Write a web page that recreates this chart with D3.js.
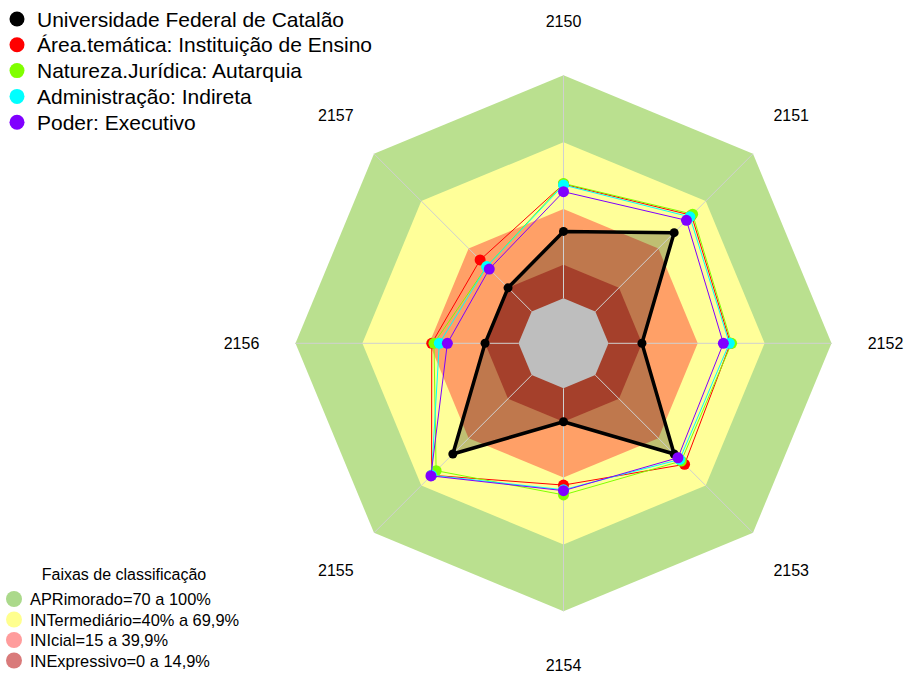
<!DOCTYPE html>
<html>
<head>
<meta charset="utf-8">
<script src="https://cdn.jsdelivr.net/npm/d3@7"></script>
<style>
  body { margin: 0; background: #fff; }
  text { font-family: Arial, "Liberation Sans", sans-serif; fill: #000; }
</style>
</head>
<body>
<div id="chart"></div>
<script>
let width = 907
let height = 675

// axes (clockwise from top)
let axes = ["2150", "2151", "2152", "2153", "2154", "2155", "2156", "2157"]

// series names and colours
let seriesNames = ["Universidade Federal de Catalão", "Área.temática: Instituição de Ensino",
  "Natureza.Jurídica: Autarquia", "Administração: Indireta", "Poder: Executivo"]
let seriesColors = ["#000000", "#ff0000", "#80ff00", "#00ffff", "#8000ff"]

// values in %
let ufc      = [30, 50, 15, 50, 15, 50, 15, 15]
let area     = [51.2, 61, 54.7, 56.6, 43.4, 63.5, 38.9, 32.7]
let natureza = [51.5, 61.7, 55.2, 54.5, 47.8, 60.6, 37.9, 28.5]
let admin    = [50.8, 60, 54.2, 53.5, 45.5, 63.5, 35.5, 28.5]
let poder    = [47.8, 57.8, 51.5, 52.4, 45.9, 63.9, 31.9, 26.9]
let seriesValues = [ufc, area, natureza, admin, poder]

// classification bands
let bandTops = [100, 70, 40, 15]
let bandColors = ["#bae08f", "#ffff99", "#ffa067", "#a5402b"]
let bandLabels = ["APRimorado=70 a 100%", "INTermediário=40% a 69,9%", "INIcial=15 a 39,9%", "INExpressivo=0 a 14,9%"]
let bandLegendColors = ["#abd98b", "#ffff8e", "#ff9c9c", "#d97a7a"]

let cx = 563.5, cy = 343.3

let r = d3.scaleLinear().domain([0, 100]).range([45, 268])
let angle = d3.scalePoint().domain(axes).range([0, 2 * Math.PI * 7 / 8])

function pt(axis, v) {
  let a = angle(axis)
  return [cx + r(v) * Math.sin(a), cy - r(v) * Math.cos(a)]
}

let svg = d3.select("#chart")
  .append("svg")
  .attr("width", width)
  .attr("height", height)

let line = d3.line().curve(d3.curveLinearClosed)

// bands (outer three), then the shaded polygon of the first series, then the inner band
svg.append("g")
  .selectAll("path")
  .data(bandTops.slice(0, 3))
  .enter()
  .append("path")
    .attr("d", d => line(axes.map(a => pt(a, d))))
    .attr("fill", (d, i) => bandColors[i])

svg.append("path")
  .attr("d", line(axes.map((a, j) => pt(a, ufc[j]))))
  .attr("fill", "rgba(0,0,0,0.25)")

svg.append("path")
  .attr("d", line(axes.map(a => pt(a, bandTops[3]))))
  .attr("fill", bandColors[3])

svg.append("path")
  .attr("d", line(axes.map(a => pt(a, 0))))
  .attr("fill", "#bebebe")

// spokes
svg.append("g")
  .selectAll("line")
  .data(axes)
  .enter()
  .append("line")
    .attr("x1", d => pt(d, 0)[0])
    .attr("y1", d => pt(d, 0)[1])
    .attr("x2", d => pt(d, 100)[0])
    .attr("y2", d => pt(d, 100)[1])
    .attr("stroke", "#d0d0d0")
    .attr("stroke-width", 1)

// axis labels
svg.append("g")
  .selectAll("text")
  .data(axes)
  .enter()
  .append("text")
    .attr("x", d => cx + 322 * Math.sin(angle(d)))
    .attr("y", d => cy - 322 * Math.cos(angle(d)))
    .attr("text-anchor", "middle")
    .attr("dominant-baseline", "central")
    .style("font-size", "16px")
    .text(d => d)

// series
seriesValues.forEach(function(vals, i) {
  let pts = axes.map((a, j) => pt(a, vals[j]))
  let g = svg.append("g")
  g.append("path")
    .attr("d", line(pts))
    .attr("fill", "none")
    .attr("stroke", seriesColors[i])
    .attr("stroke-width", i == 0 ? 3.5 : 1)
    .attr("stroke-linejoin", "round")
  g.selectAll("circle")
    .data(pts)
    .enter()
    .append("circle")
      .attr("cx", d => d[0])
      .attr("cy", d => d[1])
      .attr("r", i == 0 ? 4.5 : 5.5)
      .attr("fill", seriesColors[i])
})

// top legend
let leg = svg.append("g")
leg.selectAll("circle")
  .data(seriesNames)
  .enter()
  .append("circle")
    .attr("cx", 17)
    .attr("cy", (d, i) => 19 + i * 25.8)
    .attr("r", 7.5)
    .attr("fill", (d, i) => seriesColors[i])
leg.selectAll("text")
  .data(seriesNames)
  .enter()
  .append("text")
    .attr("x", 37)
    .attr("y", (d, i) => 19 + i * 25.8)
    .attr("dominant-baseline", "central")
    .style("font-size", "21px")
    .text(d => d)

// bands legend
let leg2 = svg.append("g")
leg2.append("text")
  .attr("x", 124)
  .attr("y", 574)
  .attr("text-anchor", "middle")
  .attr("dominant-baseline", "central")
  .style("font-size", "16px")
  .text("Faixas de classificação")
leg2.selectAll("circle")
  .data(bandLabels)
  .enter()
  .append("circle")
    .attr("cx", 14)
    .attr("cy", (d, i) => 599 + i * 20.5)
    .attr("r", 8)
    .attr("fill", (d, i) => bandLegendColors[i])
leg2.selectAll("text.item")
  .data(bandLabels)
  .enter()
  .append("text")
    .attr("class", "item")
    .attr("x", 30)
    .attr("y", (d, i) => 599 + i * 20.5)
    .attr("dominant-baseline", "central")
    .style("font-size", "16.4px")
    .text(d => d)
</script>
</body>
</html>
